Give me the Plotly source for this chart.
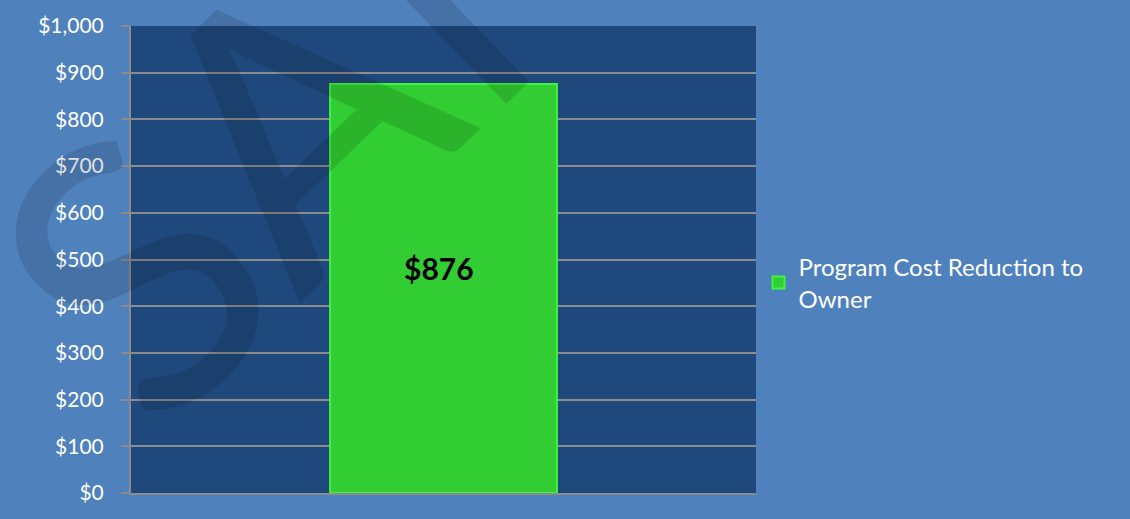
import plotly.graph_objects as go

categories = ["Program Cost Reduction to Owner"]
values = [876]
series_name = "Program Cost Reduction to<br>Owner"
tick_vals = [0, 100, 200, 300, 400, 500, 600, 700, 800, 900, 1000]
tick_text = ["$0", "$100", "$200", "$300", "$400", "$500", "$600", "$700", "$800", "$900", "$1,000"]
watermark = "SAMPLE"

FONT = "Lato, 'Open Sans', sans-serif"

fig = go.Figure()
fig.add_trace(go.Bar(
    x=categories, y=values, name=series_name,
    marker=dict(color="#32CD32", line=dict(color="#3CF53C", width=2)),
    showlegend=True,
))

fig.add_annotation(
    x=categories[0], y=values[0] / 2, text="<b>$" + f"{values[0]:,}" + "</b>",
    showarrow=False, yshift=20, xshift=-5, font=dict(family=FONT, size=30, color="black"),
)

# watermark
fig.add_annotation(
    xref="paper", yref="paper", x=0.705, y=1.40, text=watermark,
    xanchor="center", yanchor="middle",
    showarrow=False, textangle=-44,
    font=dict(family="Lato, sans-serif", size=375, color="rgba(0,0,0,0.12)"),
)

fig.update_layout(
    width=1130, height=519,
    paper_bgcolor="#4F81BD", plot_bgcolor="#1F497D",
    margin=dict(l=131, r=374, t=23, b=26),
    bargap=0.637,
    font=dict(family=FONT, color="white"),
    legend=dict(x=1.004, y=0.45, xanchor="left", yanchor="middle",
                font=dict(family=FONT, size=24, color="white"),
                bgcolor="rgba(0,0,0,0)"),
    xaxis=dict(showticklabels=False, showgrid=False, zeroline=False,
               showline=True, linecolor="#8C8C8C", linewidth=2),
    yaxis=dict(range=[0, 1000], tickvals=tick_vals, ticktext=tick_text,
               showgrid=True, gridcolor="#8C8C8C", gridwidth=2,
               zeroline=False, showline=True, linecolor="#8C8C8C", linewidth=2,
               ticks="outside", ticklen=8, tickcolor="#8C8C8C", tickwidth=2,
               ticklabelstandoff=13,
               tickfont=dict(family=FONT, size=21, color="white")),
)

fig.write_html("out.html", config={"displayModeBar": False},
               post_script="document.body.style.margin='0';document.body.style.overflow='hidden';")
